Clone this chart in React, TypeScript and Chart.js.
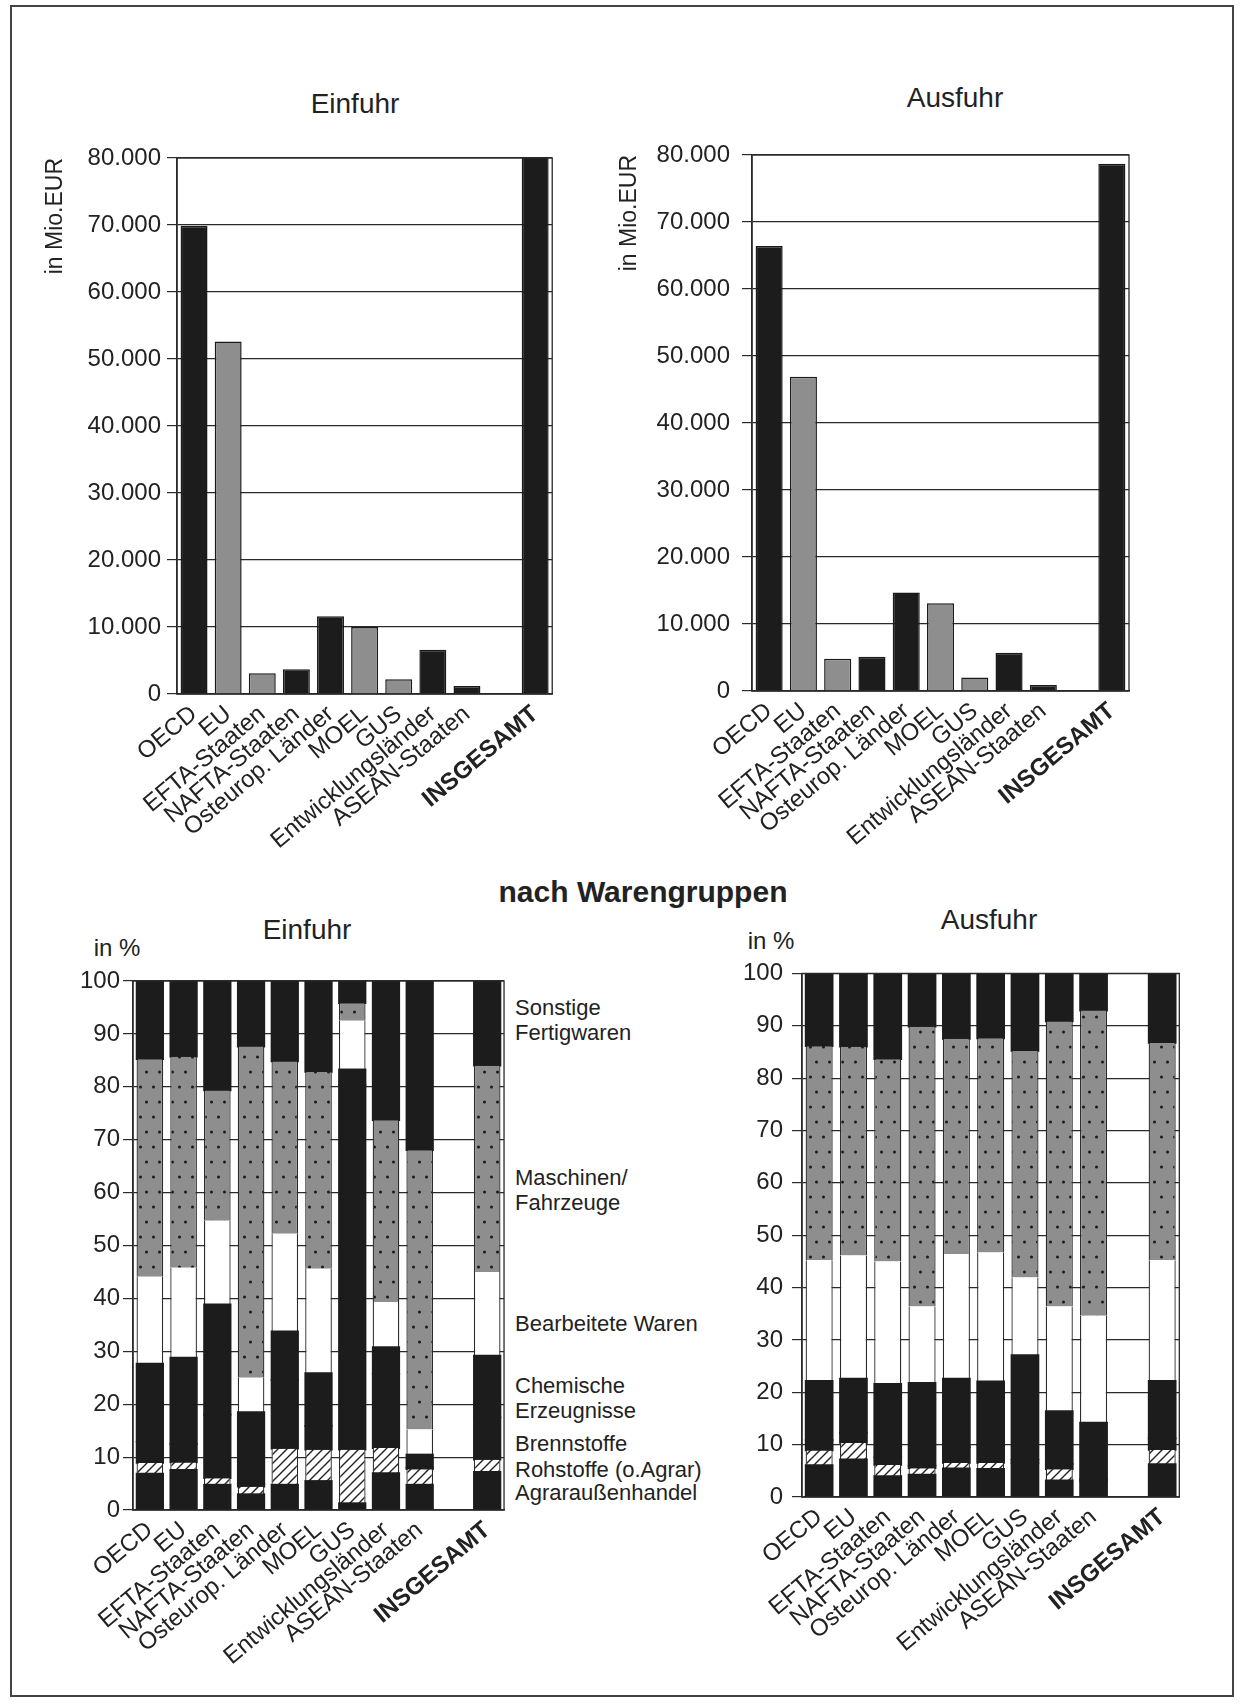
import React, { useEffect, useRef } from 'react';
import { Chart, registerables } from 'chart.js';

Chart.register(...registerables);

const FONT = '"Liberation Sans", Arial, Helvetica, sans-serif';

// ---------------- data ----------------
const CATEGORIES = [
  'OECD', 'EU', 'EFTA-Staaten', 'NAFTA-Staaten', 'Osteurop. Länder', 'MOEL', 'GUS',
  'Entwicklungsländer', 'ASEAN-Staaten', '', 'INSGESAMT',
];

// in Mio. EUR
const EINFUHR_MIO_EUR = [69900, 52600, 3100, 3700, 11600, 10000, 2200, 6600, 1200, null, 81500];
const AUSFUHR_MIO_EUR = [66400, 46900, 4800, 5100, 14700, 13100, 2000, 5700, 900, null, 78700];
const BAR_SHADE = ['dark', 'grey', 'grey', 'dark', 'dark', 'grey', 'grey', 'dark', 'dark', 'dark', 'dark'];

const EUR_TICKS = [0, 10000, 20000, 30000, 40000, 50000, 60000, 70000, 80000];
const PCT_TICKS = [0, 10, 20, 30, 40, 50, 60, 70, 80, 90, 100];

// Warengruppen (stack order bottom -> top)
const GROUPS = [
  'Agraraußenhandel', 'Rohstoffe (o.Agrar)', 'Brennstoffe', 'Chemische Erzeugnisse',
  'Bearbeitete Waren', 'Maschinen/Fahrzeuge', 'Sonstige Fertigwaren',
];
const GROUP_LABEL_LINES = [
  ['Agraraußenhandel'], ['Rohstoffe (o.Agrar)'], ['Brennstoffe'], ['Chemische', 'Erzeugnisse'],
  ['Bearbeitete Waren'], ['Maschinen/', 'Fahrzeuge'], ['Sonstige', 'Fertigwaren'],
];

// Einfuhr, in %
const EIN_AGRAR = [6.9, 7.6, 4.8, 3.0, 4.8, 5.5, 1.3, 7.0, 4.8, null, 7.2];
const EIN_ROHST = [2.0, 1.4, 1.2, 1.4, 6.8, 5.9, 10.1, 4.7, 2.9, null, 2.3];
const EIN_BRENN = [4.0, 3.5, 12.0, 0.5, 13.0, 4.5, 69.0, 14.0, 0.3, null, 8.0];
const EIN_CHEM = [14.8, 16.3, 20.9, 13.6, 9.2, 10.0, 2.9, 5.1, 2.5, null, 11.7];
const EIN_BEARB = [16.4, 17.0, 15.8, 6.5, 18.4, 19.7, 9.2, 8.5, 4.7, null, 15.8];
const EIN_MASCH = [41.1, 39.9, 24.6, 62.6, 32.6, 37.2, 3.3, 34.4, 52.8, null, 39.0];
const EIN_SONST = [14.8, 14.3, 20.7, 12.4, 15.2, 17.2, 4.2, 26.3, 32.0, null, 16.0];

// Ausfuhr, in %
const AUS_AGRAR = [6.1, 7.2, 4.0, 4.3, 5.5, 5.4, 6.5, 3.2, 3.0, null, 6.3];
const AUS_ROHST = [2.8, 3.1, 2.1, 1.2, 1.0, 1.1, 0, 2.1, 0, null, 2.7];
const AUS_BRENN = [2.0, 2.0, 1.5, 0.5, 3.0, 3.5, 0.6, 1.0, 0.4, null, 2.2];
const AUS_CHEM = [11.3, 10.3, 14.0, 15.8, 13.1, 12.1, 20.0, 10.1, 10.8, null, 11.0];
const AUS_BEARB = [23.0, 23.5, 23.4, 14.6, 23.8, 24.6, 14.8, 20.0, 20.4, null, 23.0];
const AUS_MASCH = [40.9, 39.9, 38.6, 53.4, 41.1, 40.9, 43.3, 54.4, 58.3, null, 41.5];
const AUS_SONST = [13.9, 14.0, 16.4, 10.2, 12.5, 12.4, 14.8, 9.2, 7.1, null, 13.3];

const EIN_SHARES = [EIN_AGRAR, EIN_ROHST, EIN_BRENN, EIN_CHEM, EIN_BEARB, EIN_MASCH, EIN_SONST];
const AUS_SHARES = [AUS_AGRAR, AUS_ROHST, AUS_BRENN, AUS_CHEM, AUS_BEARB, AUS_MASCH, AUS_SONST];

// ---------------- styling helpers ----------------
const DARK = '#1c1c1c';
const GREY = '#8e8e8e';
const LINE = '#2a2a2a';

function formatDE(v: number): string {
  return String(v).replace(/\B(?=(\d{3})+(?!\d))/g, '.');
}

function hatchPattern(): CanvasPattern | string {
  const c = document.createElement('canvas');
  c.width = 9; c.height = 9;
  const g = c.getContext('2d');
  if (!g) return '#fff';
  g.fillStyle = '#ffffff';
  g.fillRect(0, 0, 9, 9);
  g.strokeStyle = '#222';
  g.lineWidth = 1.4;
  g.beginPath();
  g.moveTo(-1, 10); g.lineTo(10, -1);
  g.moveTo(-1, 1); g.lineTo(1, -1);
  g.moveTo(8, 10); g.lineTo(10, 8);
  g.stroke();
  return g.createPattern(c, 'repeat') || '#fff';
}

function dotPattern(): CanvasPattern | string {
  const c = document.createElement('canvas');
  c.width = 13; c.height = 30;
  const g = c.getContext('2d');
  if (!g) return GREY;
  g.fillStyle = GREY;
  g.fillRect(0, 0, 13, 30);
  g.fillStyle = '#1a1a1a';
  g.beginPath(); g.arc(3.5, 7, 1.5, 0, Math.PI * 2); g.fill();
  g.beginPath(); g.arc(9.5, 22, 1.5, 0, Math.PI * 2); g.fill();
  return g.createPattern(c, 'repeat') || GREY;
}

const framePlugin = {
  id: 'plotFrame',
  afterDatasetsDraw(chart: any) {
    const { ctx, chartArea: a } = chart;
    ctx.save();
    ctx.strokeStyle = LINE;
    ctx.lineWidth = 1.3;
    ctx.strokeRect(a.left, a.top, a.right - a.left, a.bottom - a.top);
    ctx.restore();
  },
};

type Box = { x: number; y: number; w: number; h: number };
type Area = { l: number; t: number; r: number; b: number };

function baseOptions(box: Box, area: Area, yTicks: number[], yFormat: (v: number) => string,
  yMax: number, yTitle: string | null, yTitlePad: number, tickLen: number, tickPad: number,
  tickSize: number, stacked: boolean) {
  const lastIdx = CATEGORIES.length - 1;
  return {
    responsive: false,
    animation: false as const,
    devicePixelRatio: 1,
    layout: { padding: { top: area.t - box.y, right: box.x + box.w - area.r, left: 0, bottom: 0 } },
    plugins: { legend: { display: false }, tooltip: { enabled: false }, title: { display: false } },
    scales: {
      x: {
        stacked,
        offset: true,
        grid: { display: false, drawTicks: false },
        border: { display: true, color: LINE, width: 1.5 },
        ticks: {
          autoSkip: false,
          minRotation: 40,
          maxRotation: 40,
          padding: 6,
          color: '#222',
          font: (ctx: any) => ({ family: FONT, size: 24, weight: ctx.index === lastIdx ? 'bold' : 'normal' }),
        },
        afterFit: (s: any) => { s.height = box.y + box.h - area.b; },
      },
      y: {
        stacked,
        min: 0,
        max: yMax,
        grid: { display: true, color: LINE, lineWidth: 1.2, drawTicks: true, tickLength: tickLen },
        border: { display: true, color: LINE, width: 1.5 },
        ticks: {
          color: '#222',
          padding: tickPad,
          font: { family: FONT, size: tickSize },
          callback: (v: any) => yFormat(Number(v)),
        },
        afterBuildTicks: (s: any) => { s.ticks = yTicks.map((v) => ({ value: v })); },
        title: yTitle
          ? {
              display: true,
              text: yTitle,
              align: 'end' as const,
              color: '#222',
              font: { family: FONT, size: 23 },
              padding: { top: yTitlePad, bottom: 0 },
            }
          : { display: false },
        afterFit: (s: any) => { s.width = area.l - box.x; },
      },
    },
  };
}

function makeValueChart(values: (number | null)[], box: Box, area: Area, titlePad: number, tickPad: number) {
  return () => ({
    type: 'bar' as const,
    data: {
      labels: CATEGORIES,
      datasets: [{
        data: values,
        backgroundColor: BAR_SHADE.map((s) => (s === 'grey' ? GREY : DARK)),
        borderColor: '#1a1a1a',
        borderWidth: 1.5,
        barPercentage: 0.79,
        categoryPercentage: 1,
      }],
    },
    options: baseOptions(box, area, EUR_TICKS, formatDE, 80000, 'in Mio.EUR', titlePad, 10, tickPad, 24, false),
    plugins: [framePlugin],
  });
}

function makeShareChart(shares: (number | null)[][], box: Box, area: Area, tickPad: number) {
  return () => {
    const hatch = hatchPattern();
    const dots = dotPattern();
    const fills = [DARK, hatch, DARK, DARK, '#ffffff', dots, DARK];
    const dark = [true, false, true, true, false, false, true];
    return {
      type: 'bar' as const,
      data: {
        labels: CATEGORIES,
        datasets: shares.map((vals, i) => ({
          label: GROUPS[i],
          data: vals,
          backgroundColor: fills[i],
          borderColor: '#2a2a2a',
          borderWidth: dark[i] ? 0 : { left: 1.3, right: 1.3, top: 0, bottom: 0 },
          borderSkipped: false,
          inflateAmount: dark[i] ? 0.8 : 0,
          barPercentage: 0.79,
          categoryPercentage: 1,
        })),
      },
      options: baseOptions(box, area, PCT_TICKS, (v) => String(v), 100, null, 0, 10, tickPad, 24, true),
      plugins: [framePlugin],
    };
  };
}

// ---------------- layout ----------------
const TL_BOX: Box = { x: 30, y: 130, w: 530, h: 740 };
const TL_AREA: Area = { l: 177, t: 158, r: 553, b: 694 };
const TR_BOX: Box = { x: 600, y: 127, w: 537, h: 743 };
const TR_AREA: Area = { l: 752, t: 155, r: 1129, b: 691 };
const BL_BOX: Box = { x: 20, y: 960, w: 492, h: 735 };
const BL_AREA: Area = { l: 133, t: 981, r: 505, b: 1510 };
const BR_BOX: Box = { x: 690, y: 950, w: 497, h: 745 };
const BR_AREA: Area = { l: 802, t: 971, r: 1180, b: 1497 };

const LEGEND_X = 515;
const LEGEND_TOP = [1492, 1469, 1443, 1385, 1323, 1177, 1007];

function ChartCanvas({ box, make }: { box: Box; make: () => any }) {
  const ref = useRef<HTMLCanvasElement>(null);
  useEffect(() => {
    if (!ref.current) return;
    const chart = new Chart(ref.current, make());
    return () => chart.destroy();
  }, []);
  return (
    <canvas
      ref={ref}
      width={box.w}
      height={box.h}
      style={{ position: 'absolute', left: box.x, top: box.y, width: box.w, height: box.h }}
    />
  );
}

function Label({ x, y, size, bold, children }: { x: number; y: number; size: number; bold?: boolean; children: React.ReactNode }) {
  return (
    <div
      style={{
        position: 'absolute', left: x, top: y, transform: 'translate(-50%, -50%)',
        fontSize: size, fontWeight: bold ? 'bold' : 'normal', whiteSpace: 'nowrap', lineHeight: 1,
      }}
    >
      {children}
    </div>
  );
}

export default function App() {
  return (
    <div
      style={{
        position: 'absolute', left: 0, top: 0, width: 1241, height: 1705, background: '#fff',
        fontFamily: FONT, color: '#222', overflow: 'hidden',
      }}
    >
      <div
        style={{
          position: 'absolute', left: 10, top: 5, width: 1224, height: 1692,
          border: '2px solid #444', boxSizing: 'border-box',
        }}
      />
      <Label x={355} y={104} size={28}>Einfuhr</Label>
      <Label x={955} y={98} size={28}>Ausfuhr</Label>
      <Label x={643} y={892} size={30} bold>nach Warengruppen</Label>
      <Label x={307} y={930} size={28}>Einfuhr</Label>
      <Label x={989} y={920} size={28}>Ausfuhr</Label>
      <Label x={117} y={948} size={24}>in %</Label>
      <Label x={771} y={941} size={24}>in %</Label>

      {GROUP_LABEL_LINES.map((lines, i) => (
        <div
          key={i}
          style={{
            position: 'absolute', left: LEGEND_X, top: LEGEND_TOP[i] - 12, fontSize: 22,
            lineHeight: '25px', whiteSpace: 'nowrap',
          }}
        >
          {lines.map((ln, j) => (<div key={j}>{ln}</div>))}
        </div>
      ))}

      <ChartCanvas box={TL_BOX} make={makeValueChart(EINFUHR_MIO_EUR, TL_BOX, TL_AREA, 12, 6)} />
      <ChartCanvas box={TR_BOX} make={makeValueChart(AUSFUHR_MIO_EUR, TR_BOX, TR_AREA, 16, 12)} />
      <ChartCanvas box={BL_BOX} make={makeShareChart(EIN_SHARES, BL_BOX, BL_AREA, 3)} />
      <ChartCanvas box={BR_BOX} make={makeShareChart(AUS_SHARES, BR_BOX, BR_AREA, 9)} />
    </div>
  );
}
